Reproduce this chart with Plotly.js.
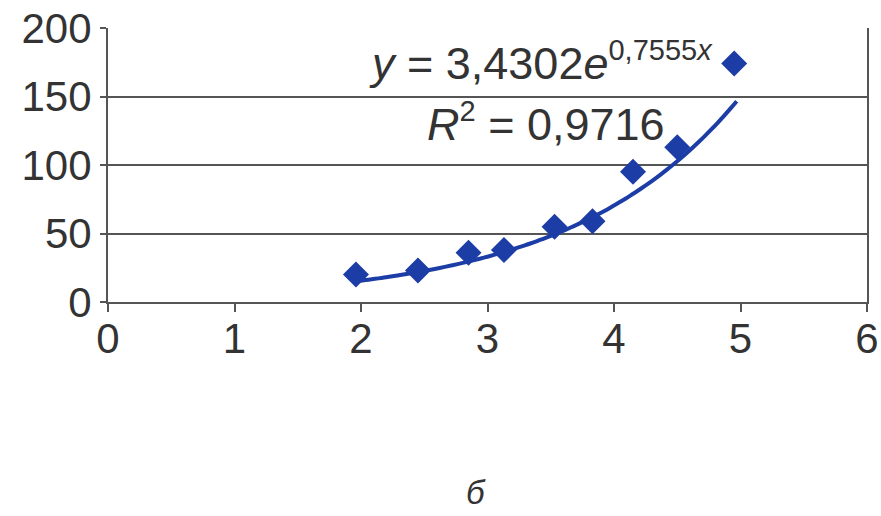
<!DOCTYPE html>
<html>
<head>
<meta charset="utf-8">
<script src="https://cdn.plot.ly/plotly-3.0.1.min.js"></script>
<style>html,body{margin:0;padding:0;background:#fff;}#chart{width:881px;height:516px;}</style>
</head>
<body>
<div id="chart"></div>
<script>
// Data
const xValues = [1.96, 2.45, 2.85, 3.13, 3.53, 3.83, 4.15, 4.5, 4.95];
const yValues = [20, 23, 36, 38, 55, 59, 95, 113, 174];
const fitA = 3.4302;
const fitB = 0.7555;
const fitRange = [1.96, 4.97];
const xTicks = [0, 1, 2, 3, 4, 5, 6];
const yTicks = [0, 50, 100, 150, 200];
const equationText = "<i>y</i> = 3,4302<i>e</i><sup><span style=\"font-size:29px\">0,7555<i>x</i></span></sup>";
const r2Text = "<i>R</i><sup><span style=\"font-size:29px\">2</span></sup> = 0,9716";
const captionText = "<i>б</i>";

// Trendline from the fitted equation
const fitX = [], fitY = [];
for (let i = 0; i <= 60; i++) {
  const x = fitRange[0] + (fitRange[1] - fitRange[0]) * i / 60;
  fitX.push(x);
  fitY.push(fitA * Math.exp(fitB * x));
}

const M = {l: 108, r: 14, t: 28, b: 214};
const W = 881, H = 516;
const px = v => (v - M.l) / (W - M.l - M.r);
const py = v => (H - M.b - v) / (H - M.t - M.b);

const blue = "#1d3da6";
const traces = [
  {x: fitX, y: fitY, mode: "lines", line: {color: blue, width: 4, shape: "spline"}, hoverinfo: "skip"},
  {x: xValues, y: yValues, mode: "markers", marker: {symbol: "diamond", size: 20, color: blue}}
];

const FS = 42;
const layout = {
  width: W, height: H,
  margin: M,
  paper_bgcolor: "#fff", plot_bgcolor: "#fff",
  showlegend: false,
  font: {family: "Liberation Sans, Arial, sans-serif", color: "#333", size: FS},
  xaxis: {
    range: [0, 6], tickvals: xTicks, ticktext: xTicks.map(String),
    showgrid: false, zeroline: false,
    showline: true, linecolor: "#555", linewidth: 2, mirror: false,
    ticks: "outside", ticklen: 8, tickwidth: 2, tickcolor: "#555",
    ticklabelstandoff: -9,
    tickfont: {size: FS, color: "#333"}
  },
  yaxis: {
    range: [0, 200], tickvals: yTicks, ticktext: yTicks.map(String),
    showgrid: true, gridcolor: "#555", gridwidth: 2, zeroline: false,
    showline: true, linecolor: "#555", linewidth: 2, mirror: true,
    ticks: "outside", ticklen: 6, tickwidth: 2, tickcolor: "#555",
    tickfont: {size: FS, color: "#333"}
  },
  annotations: [
    {text: equationText, x: px(541), xref: "paper", y: py(62), yref: "paper", xanchor: "center", yanchor: "middle", showarrow: false, font: {size: 45, color: "#333"}},
    {text: r2Text, x: px(546), xref: "paper", y: py(122), yref: "paper", xanchor: "center", yanchor: "middle", showarrow: false, font: {size: 45, color: "#333"}},
    {text: captionText, x: px(476), xref: "paper", y: py(492), yref: "paper", xanchor: "center", yanchor: "middle", showarrow: false, font: {size: 33, color: "#333"}}
  ]
};

Plotly.newPlot("chart", traces, layout, {displayModeBar: false, staticPlot: true});
</script>
</body>
</html>
